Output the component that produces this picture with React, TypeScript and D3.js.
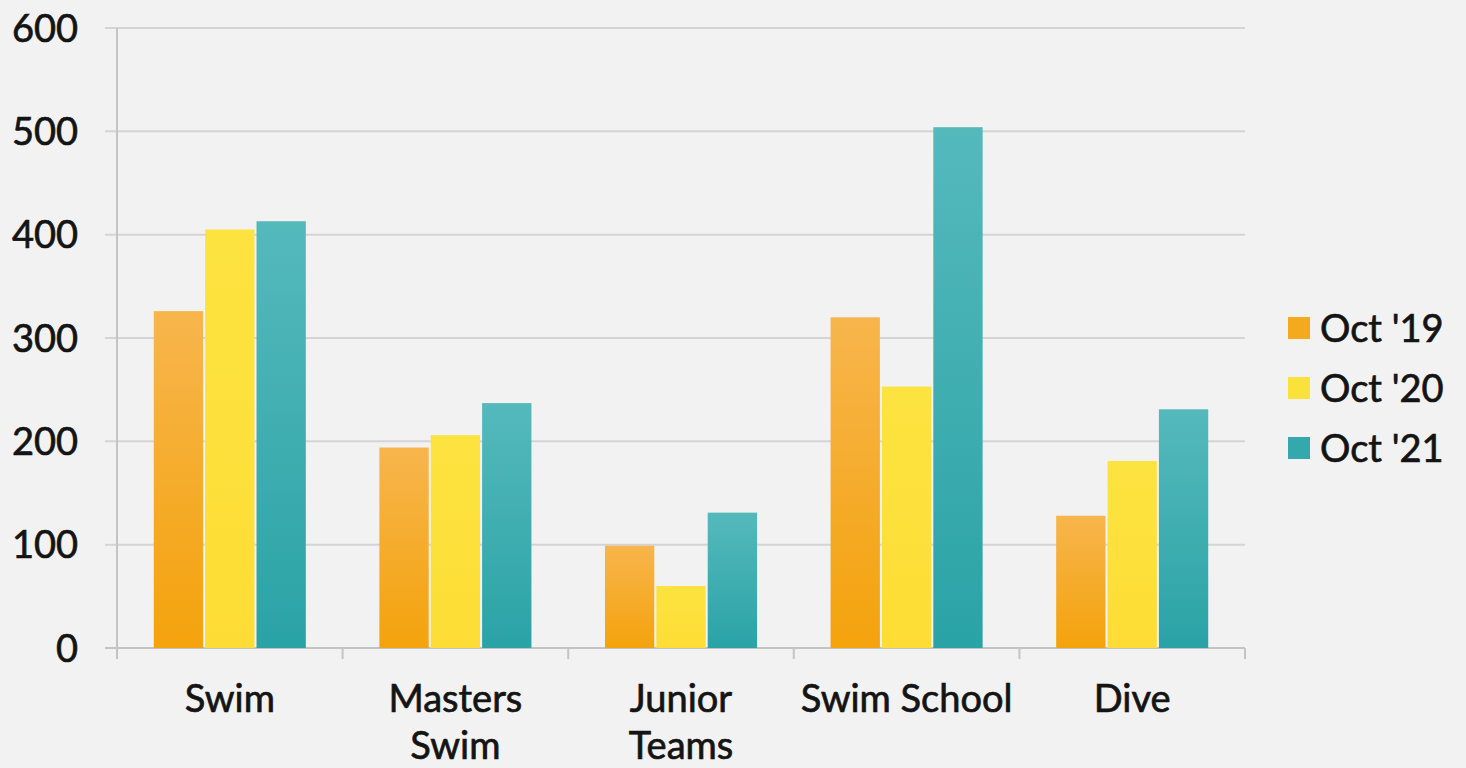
import React, { useEffect, useRef } from "react";
import * as d3 from "d3";

const categories = ["Swim", "Masters\nSwim", "Junior\nTeams", "Swim School", "Dive"];
const seriesNames = ["Oct '19", "Oct '20", "Oct '21"];
const oct19 = [326, 194, 99, 320, 128];
const oct20 = [405, 206, 60, 253, 181];
const oct21 = [413, 237, 131, 504, 231];
const yTicks = [0, 100, 200, 300, 400, 500, 600];

const gradStops = [
  ["#f7b54c", "#f4a30c"],
  ["#fde340", "#fddd35"],
  ["#55b9bc", "#2aa3a6"],
];
const legendColors = ["#f5aa1e", "#fbe13c", "#33a9ae"];

const W = 1466;
const H = 768;

export default function App() {
  const ref = useRef<SVGSVGElement | null>(null);

  useEffect(() => {
    document.body.style.margin = "0";
    const svg = d3.select(ref.current);
    svg.selectAll("*").remove();
    const font = "Lato, 'Open Sans', sans-serif";
    const textColor = "#141414";
    const addText = (sel: any) =>
      sel
        .attr("font-family", font)
        .attr("font-size", 38)
        .attr("fill", textColor)
        .attr("stroke", textColor)
        .attr("stroke-width", 0.7);

    svg.append("rect").attr("width", W).attr("height", H).attr("fill", "#f2f2f2");

    const defs = svg.append("defs");
    gradStops.forEach((s, i) => {
      const g = defs
        .append("linearGradient")
        .attr("id", "g" + i)
        .attr("x1", 0)
        .attr("y1", 0)
        .attr("x2", 0)
        .attr("y2", 1);
      g.append("stop").attr("offset", "0%").attr("stop-color", s[0]);
      g.append("stop").attr("offset", "100%").attr("stop-color", s[1]);
    });

    const left = 117;
    const right = 1245;
    const y = d3.scaleLinear().domain([0, 600]).range([648, 28]);
    const x0 = d3.scaleBand<string>().domain(categories).range([left, right]).paddingInner(0.326).paddingOuter(0.163);
    const x1 = d3.scaleBand<string>().domain(seriesNames).range([0, x0.bandwidth()]).paddingInner(0.04);

    const grid = svg.append("g");
    yTicks.forEach((t) => {
      grid
        .append("line")
        .attr("x1", left - 12)
        .attr("x2", right)
        .attr("y1", y(t))
        .attr("y2", y(t))
        .attr("stroke", t === 0 ? "#c4c4c4" : "#d4d4d4")
        .attr("stroke-width", 2);
      addText(
        grid
          .append("text")
          .attr("x", 78)
          .attr("y", y(t))
          .attr("dy", "0.36em")
          .attr("text-anchor", "end")
      ).text(String(t));
    });

    svg
      .append("line")
      .attr("x1", left)
      .attr("x2", left)
      .attr("y1", y(600))
      .attr("y2", y(0))
      .attr("stroke", "#c4c4c4")
      .attr("stroke-width", 2);

    const step = x0.step();
    d3.range(categories.length + 1).forEach((i) => {
      const xx = left + i * step;
      svg
        .append("line")
        .attr("x1", xx)
        .attr("x2", xx)
        .attr("y1", y(0))
        .attr("y2", y(0) + 11)
        .attr("stroke", "#c4c4c4")
        .attr("stroke-width", 2);
    });

    const data = [oct19, oct20, oct21];
    categories.forEach((c, ci) => {
      const g = svg.append("g").attr("transform", `translate(${x0(c)},0)`);
      seriesNames.forEach((s, si) => {
        const v = data[si][ci];
        g.append("rect")
          .attr("x", x1(s)!)
          .attr("y", y(v))
          .attr("width", x1.bandwidth())
          .attr("height", y(0) - y(v))
          .attr("fill", `url(#g${si})`);
      });
      const lines = c.split("\n");
      const cx = x0(c)! + x0.bandwidth() / 2;
      lines.forEach((ln, li) => {
        addText(
          svg
            .append("text")
            .attr("x", cx)
            .attr("y", 712 + li * 47)
            .attr("text-anchor", "middle")
        ).text(ln);
      });
    });

    seriesNames.forEach((s, i) => {
      const cy = 328 + i * 60;
      svg
        .append("rect")
        .attr("x", 1288)
        .attr("y", cy - 11)
        .attr("width", 22)
        .attr("height", 22)
        .attr("fill", legendColors[i]);
      addText(svg.append("text").attr("x", 1320).attr("y", cy).attr("dy", "0.36em")).text(s);
    });
  }, []);

  return (
    <div style={{ position: "absolute", left: 0, top: 0 }}>
      <svg ref={ref} width={W} height={H} style={{ display: "block" }} />
    </div>
  );
}
